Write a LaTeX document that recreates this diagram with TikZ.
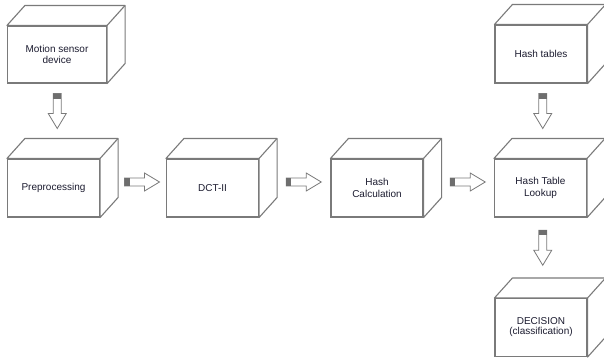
\documentclass[tikz,border=0pt]{standalone}
\usepackage{fontspec}
\setmainfont{Liberation Sans}
\usetikzlibrary{calc}
\definecolor{edge}{HTML}{7A7A7A}
\definecolor{capgray}{HTML}{6E6E6E}
\definecolor{ink}{HTML}{1C1C30}
\tikzset{
  face/.style={draw=edge, line width=1.1pt, fill=white, rectangle,
    minimum width=92pt, minimum height=58pt, align=center,
    font=\fontsize{10}{11.5}\selectfont, text=ink, inner sep=1pt},
  cubeline/.style={draw=edge, line width=1.1pt, fill=white, line join=round},
  pics/blockarrow/.style={code={
    \draw[edge, line width=0.8pt, fill=white, line join=miter]
      (-17.5,-4) -- (2.5,-4) -- (2.5,-9) -- (17.5,0) -- (2.5,9) -- (2.5,4) -- (-17.5,4) -- cycle;
    \fill[capgray] (-17.5,-4) rectangle (-12.5,4);
  }}
}
% draws the top and right faces behind a front face node
\newcommand{\cubeback}[1]{%
  \draw[cubeline] (#1.north west) -- ++(18,-20) -- ($(#1.north east)+(18,-20)$)
    -- ($(#1.south east)+(18,-20)$) -- (#1.south east) -- (#1.north east) -- cycle;
  \draw[cubeline] (#1.north east) -- ++(18,-20);
}
\begin{document}
\begin{tikzpicture}[x=1pt,y=-1pt]
\useasboundingbox (0,0) rectangle (604,360);
\fill[white] (0,0) rectangle (604,360);

% front faces
\node[face, minimum width=99pt, minimum height=57pt] (sensor) at (57,54.5) {Motion sensor\\device};
\node[face] (prep) at (53.5,188) {Preprocessing};
\node[face] (dct) at (212.5,188) {DCT-II};
\node[face] (hash) at (377,188) {Hash\\Calculation};
\node[face] (lookup) at (540.5,188) {Hash Table\\Lookup};
\node[face] (tables) at (541,54) {Hash tables};
\node[face, font=\fontsize{10}{10}\selectfont] (decision) at (541,327.5) {DECISION\\(classification)};

% depth of each box
\foreach \b in {sensor,prep,dct,hash,lookup,tables,decision}{\cubeback{\b}}

% block arrows between the boxes
\pic[rotate=-90] at ($(sensor.south)!0.5!(prep.north)+(2,-10)$) {blockarrow};
\pic at ($(prep.east)!0.5!(dct.west)+(9,-6)$) {blockarrow};
\pic at ($(dct.east)!0.5!(hash.west)+(9,-6)$) {blockarrow};
\pic at ($(hash.east)!0.5!(lookup.west)+(9,-6)$) {blockarrow};
\pic[rotate=-90] at ($(tables.south)!0.5!(lookup.north)+(2,-10)$) {blockarrow};
\pic[rotate=-90] at ($(lookup.south)!0.5!(decision.north)+(2,-10)$) {blockarrow};
\end{tikzpicture}
\end{document}
